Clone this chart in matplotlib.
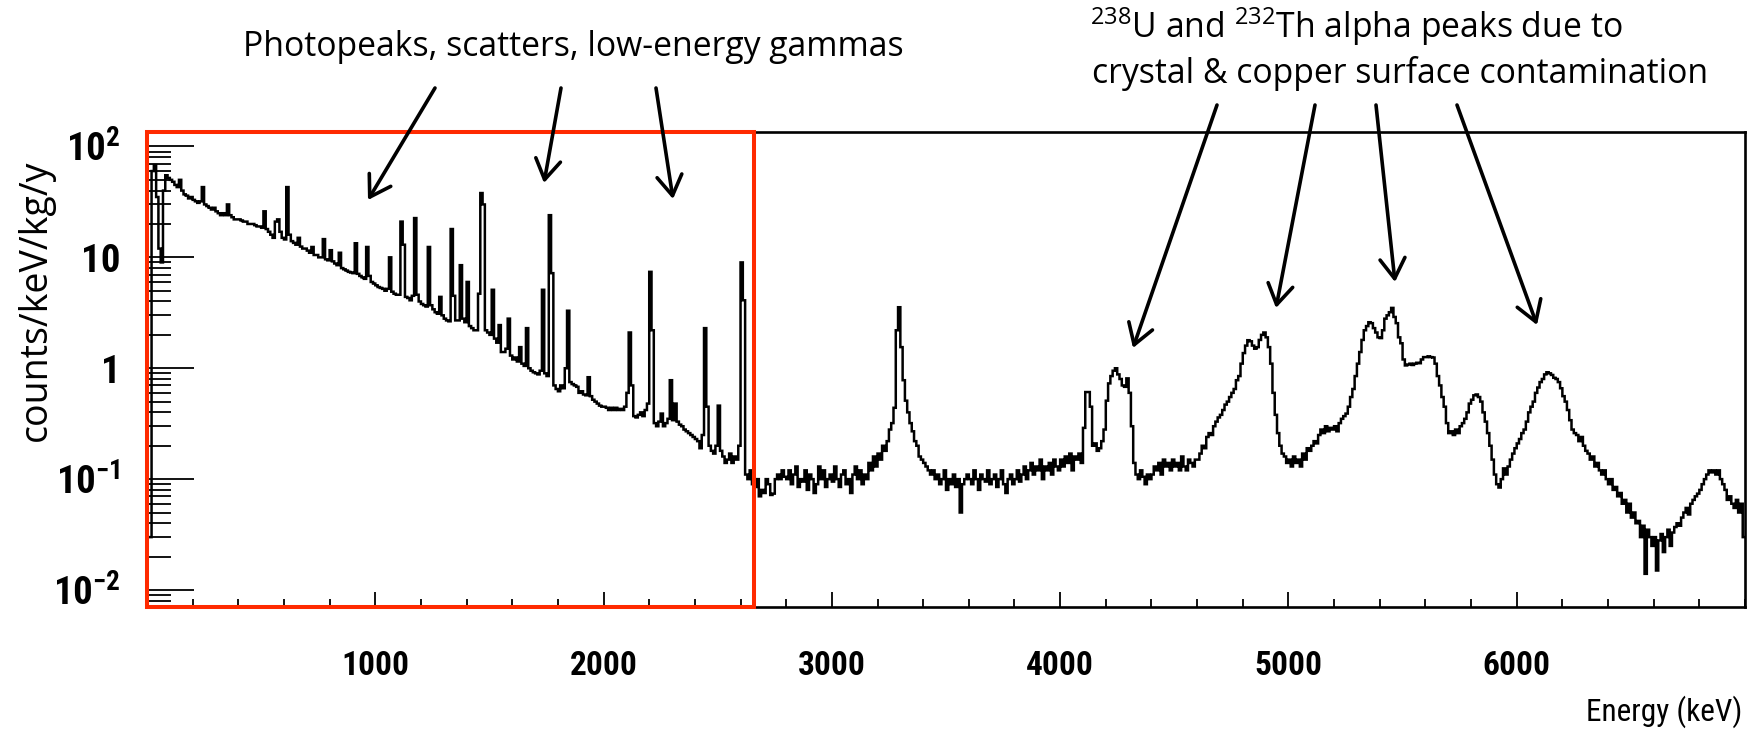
import numpy as np
import matplotlib
matplotlib.use('Agg')
import matplotlib.pyplot as plt
import matplotlib.transforms as mtransforms
from matplotlib.patches import Rectangle, FancyArrowPatch
from matplotlib.ticker import FixedLocator, MultipleLocator, LogLocator, FixedFormatter, NullFormatter

plt.rcParams['mathtext.fontset'] = 'custom'
plt.rcParams['mathtext.rm'] = 'Open Sans'
plt.rcParams['mathtext.sf'] = 'Open Sans'
plt.rcParams['mathtext.bf'] = 'Roboto Condensed:bold'

# background rate in counts/keV/kg/y, one value per 10 keV bin
# 0 - 2800 keV (gamma lines + continuum), 20 bins per row
rate_gamma = [
    0.03, 0.03, 60, 68, 35, 12, 9, 40, 55, 52, 50, 48, 45, 43, 50, 40, 37, 36, 34, 35,
    33, 32, 31, 32, 43, 30, 29, 28, 27, 28, 26, 25, 24, 25, 24, 30, 24, 23, 22, 22,
    22, 21.5, 21, 21, 20, 20, 20, 19.5, 19, 19, 18.5, 26, 18, 17, 16, 15, 21, 22, 17, 15,
    14.5, 43, 16, 14, 13.5, 13, 15, 12.5, 12, 12, 11.5, 11, 12.4, 10.5, 10.5, 10, 10, 14.6, 9.6, 9.4,
    11.6, 9.2, 8.8, 8.5, 11, 8, 7.8, 7.6, 7.4, 7.3, 7.2, 13.4, 7.1, 6.8, 6.6, 6.4, 12.4, 6.8, 6.0, 5.8,
    5.6, 5.4, 5.3, 5.2, 5.0, 5.2, 10, 4.9, 4.7, 4.6, 4.6, 21, 13, 4.4, 4.3, 4.1, 4.5, 22.6, 4.6, 4.0,
    3.8, 3.7, 3.6, 12.4, 3.7, 3.4, 3.2, 3.1, 4.4, 3.0, 2.8, 2.7, 2.65, 18, 4.5, 2.7, 2.7, 8.5, 2.8, 2.6,
    6.0, 2.4, 2.3, 2.2, 2.2, 4.7, 38, 30, 2.2, 2.1, 2.0, 5.1, 1.85, 1.7, 2.45, 1.4, 1.4, 1.5, 2.8, 1.3,
    1.2, 1.25, 1.15, 1.55, 1.1, 1.05, 2.3, 1.0, 0.95, 0.92, 0.9, 0.88, 0.95, 5.1, 0.9, 0.85, 24, 7.2, 0.7, 0.65,
    0.62, 0.7, 0.66, 1.0, 3.3, 0.75, 0.72, 0.7, 0.68, 0.6, 0.62, 0.58, 0.57, 0.83, 0.56, 0.52, 0.5, 0.48, 0.46, 0.45,
    0.45, 0.44, 0.42, 0.44, 0.42, 0.44, 0.42, 0.43, 0.42, 0.45, 0.6, 2.1, 0.7, 0.37, 0.36, 0.38, 0.4, 0.37, 0.42, 0.48,
    7.4, 2.2, 0.32, 0.3, 0.33, 0.39, 0.3, 0.32, 0.35, 0.78, 0.34, 0.48, 0.33, 0.31, 0.3, 0.28, 0.27, 0.26, 0.25, 0.24,
    0.23, 0.22, 0.19, 0.25, 2.3, 0.45, 0.2, 0.18, 0.17, 0.2, 0.46, 0.18, 0.16, 0.14, 0.15, 0.17, 0.14, 0.16, 0.15, 0.2,
    9.0, 4.1, 0.11, 0.1, 0.12, 0.09, 0.085, 0.1, 0.07, 0.08, 0.075, 0.1, 0.09, 0.072, 0.074, 0.1, 0.11, 0.1, 0.12, 0.105,
]
# 2800 - 7000 keV (alpha region)
rate_alpha = [
    0.1, 0.12, 0.09, 0.11, 0.13, 0.085, 0.1, 0.095, 0.12, 0.08, 0.11, 0.1, 0.075, 0.09, 0.13, 0.1, 0.12, 0.085, 0.1, 0.11,
    0.095, 0.13, 0.1, 0.085, 0.11, 0.12, 0.09, 0.1, 0.075, 0.11, 0.13, 0.1, 0.12, 0.09, 0.11, 0.1, 0.14, 0.12, 0.16, 0.13,
    0.17, 0.15, 0.2, 0.18, 0.22, 0.28, 0.32, 0.44, 2.2, 3.55, 1.55, 0.78, 0.51, 0.4, 0.32, 0.27, 0.22, 0.2, 0.16, 0.15,
    0.14, 0.13, 0.12, 0.11, 0.12, 0.1, 0.11, 0.09, 0.1, 0.12, 0.08, 0.1, 0.09, 0.11, 0.085, 0.1, 0.05, 0.09, 0.1, 0.11,
    0.1, 0.09, 0.12, 0.1, 0.08, 0.11, 0.1, 0.095, 0.12, 0.09, 0.1, 0.11, 0.085, 0.1, 0.12, 0.09, 0.075, 0.1, 0.11, 0.09,
    0.1, 0.12, 0.095, 0.11, 0.13, 0.1, 0.12, 0.14, 0.11, 0.13, 0.12, 0.15, 0.1, 0.13, 0.12, 0.14, 0.11, 0.15, 0.13, 0.12,
    0.15, 0.13, 0.16, 0.14, 0.17, 0.12, 0.16, 0.15, 0.17, 0.14, 0.29, 0.61, 0.61, 0.45, 0.2, 0.21, 0.18, 0.19, 0.22, 0.28,
    0.51, 0.73, 0.85, 0.95, 1.0, 0.88, 0.8, 0.7, 0.68, 0.81, 0.6, 0.3, 0.14, 0.11, 0.1, 0.12, 0.105, 0.09, 0.11, 0.1,
    0.11, 0.13, 0.12, 0.14, 0.11, 0.15, 0.13, 0.14, 0.12, 0.15, 0.13, 0.14, 0.12, 0.16, 0.13, 0.12, 0.15, 0.14, 0.13, 0.15,
    0.15, 0.17, 0.2, 0.19, 0.24, 0.26, 0.25, 0.3, 0.33, 0.36, 0.38, 0.42, 0.47, 0.5, 0.55, 0.6, 0.65, 0.78, 0.85, 1.1,
    1.37, 1.6, 1.79, 1.75, 1.6, 1.5, 1.55, 1.8, 2.0, 2.1, 1.9, 1.55, 1.1, 0.6, 0.38, 0.26, 0.2, 0.17, 0.16, 0.14,
    0.15, 0.13, 0.16, 0.14, 0.15, 0.13, 0.17, 0.15, 0.19, 0.18, 0.2, 0.22, 0.21, 0.25, 0.28, 0.26, 0.3, 0.27, 0.29, 0.28,
    0.3, 0.27, 0.32, 0.35, 0.37, 0.39, 0.45, 0.55, 0.65, 0.85, 1.1, 1.4, 1.8, 2.2, 2.4, 2.6, 2.55, 2.3, 2.1, 1.9,
    1.87, 2.2, 2.8, 3.0, 3.2, 3.5, 2.9, 2.55, 1.9, 1.68, 1.2, 1.06, 1.08, 1.1, 1.07, 1.1, 1.12, 1.11, 1.2, 1.26,
    1.26, 1.28, 1.26, 1.25, 1.1, 0.85, 0.7, 0.55, 0.45, 0.32, 0.26, 0.27, 0.25, 0.28, 0.26, 0.3, 0.32, 0.35, 0.4, 0.48,
    0.52, 0.57, 0.58, 0.55, 0.5, 0.4, 0.33, 0.26, 0.2, 0.15, 0.11, 0.09, 0.084, 0.1, 0.125, 0.11, 0.13, 0.15, 0.17, 0.19,
    0.21, 0.23, 0.26, 0.28, 0.33, 0.4, 0.45, 0.5, 0.6, 0.67, 0.75, 0.8, 0.88, 0.92, 0.9, 0.87, 0.82, 0.8, 0.75, 0.66,
    0.56, 0.5, 0.42, 0.34, 0.28, 0.26, 0.25, 0.22, 0.24, 0.2, 0.18, 0.17, 0.15, 0.16, 0.13, 0.14, 0.12, 0.11, 0.12, 0.1,
    0.09, 0.1, 0.08, 0.085, 0.07, 0.075, 0.06, 0.065, 0.05, 0.06, 0.045, 0.05, 0.04, 0.042, 0.03, 0.038, 0.014, 0.035, 0.03, 0.025,
    0.03, 0.015, 0.028, 0.032, 0.022, 0.03, 0.035, 0.025, 0.033, 0.037, 0.04, 0.038, 0.045, 0.05, 0.055, 0.048, 0.06, 0.065, 0.07, 0.074,
    0.08, 0.09, 0.1, 0.11, 0.12, 0.115, 0.12, 0.11, 0.12, 0.1, 0.09, 0.08, 0.065, 0.07, 0.06, 0.055, 0.065, 0.05, 0.06, 0.03,
]

bin_width = 10  # keV
x_ticks = [1000, 2000, 3000, 4000, 5000, 6000]
y_ticks = [1e-2, 1e-1, 1, 10, 100]
y_tick_labels = [r'$\mathbf{10^{-2}}$', r'$\mathbf{10^{-1}}$', '1', '10', r'$\mathbf{10^{2}}$']
gamma_window = 2660  # keV, upper end of the boxed gamma region

rate = np.array(rate_gamma + rate_alpha)
edges = np.arange(len(rate) + 1) * bin_width

W, H = 1753, 744
fig = plt.figure(figsize=(W / 100, H / 100), dpi=100)
ax = fig.add_axes([147 / W, 137 / H, 1598 / W, 475 / H])

ax.stairs(rate, edges, color='black', lw=1.8, baseline=None)

ax.set_yscale('log')
ax.set_xlim(0, 7000)
ax.set_ylim(0.00703, 135)

narrow = ['Roboto Condensed', 'Liberation Sans Narrow', 'Liberation Sans']
ax.xaxis.set_major_locator(FixedLocator(x_ticks))
ax.xaxis.set_minor_locator(MultipleLocator(200))
ax.yaxis.set_major_locator(FixedLocator(y_ticks))
ax.yaxis.set_major_formatter(FixedFormatter(y_tick_labels))
ax.yaxis.set_minor_locator(LogLocator(base=10, subs=np.arange(2, 10)))
ax.yaxis.set_minor_formatter(NullFormatter())

ax.tick_params(axis='x', which='major', direction='in', length=11, width=1.3, pad=31,
               labelsize=24, top=False)
ax.tick_params(axis='x', which='minor', direction='in', length=6, width=1.3, top=False)
ax.tick_params(axis='y', which='major', direction='in', length=34, width=1.3, pad=19,
               labelsize=28, right=False)
ax.tick_params(axis='y', which='minor', direction='in', length=17, width=1.3, right=False)
for lab in ax.get_xticklabels() + ax.get_yticklabels():
    lab.set_family(narrow)
    lab.set_weight('bold')

for sp in ax.spines.values():
    sp.set_linewidth(1.9)

# red box around the gamma region
trans = mtransforms.blended_transform_factory(ax.transData, ax.transAxes)
ax.add_patch(Rectangle((0, 0), gamma_window, 1, transform=trans, fill=False,
                       ec='#ff2a00', lw=2.9, clip_on=False, zorder=5))

# axis titles
fig.text(1742 / W, 1 - 712 / H, 'Energy (keV)', ha='right', va='center',
         fontsize=22.5, family=narrow)
fig.text(36 / W, 1 - 300 / H, 'counts/keV/kg/y', rotation=90, ha='center', va='center',
         fontsize=27, family='Open Sans')

# annotations
fig.text(573 / W, 1 - 47 / H, 'Photopeaks, scatters, low-energy gammas',
         ha='center', va='center', fontsize=24.3, family='Open Sans')
fig.text(1090 / W, 1 - 38 / H, r'$^{238}$U and $^{232}$Th alpha peaks due to',
         ha='left', va='baseline', fontsize=24.3, family='Open Sans')
fig.text(1092 / W, 1 - 83 / H, 'crystal & copper surface contamination',
         ha='left', va='baseline', fontsize=24.3, family='Open Sans')

arrows = [
    ((435, 88), (368, 200)),
    ((561, 88), (544, 183)),
    ((656, 88), (673, 199)),
    ((1217, 105), (1133, 348)),
    ((1315, 105), (1276, 308)),
    ((1376, 105), (1395, 282)),
    ((1457, 105), (1537, 325)),
]
for (x0, y0), (x1, y1) in arrows:
    fig.add_artist(FancyArrowPatch(
        (x0, H - y0), (x1, H - y1), transform=None,
        arrowstyle='->,head_length=0.4,head_width=0.25', mutation_scale=36,
        lw=2.6, color='black', shrinkA=0, shrinkB=0, zorder=6))

fig.savefig('out.png', dpi=100)
